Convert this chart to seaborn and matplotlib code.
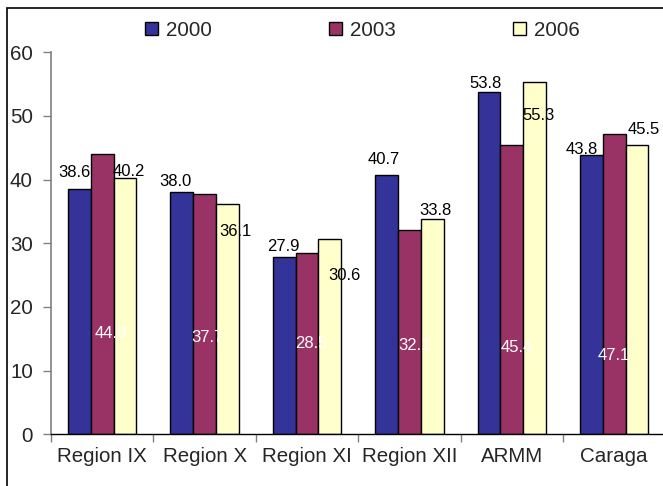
import matplotlib
matplotlib.use('Agg')
import pandas as pd
import seaborn as sns
import matplotlib.pyplot as plt
from matplotlib.patches import Rectangle
from matplotlib.ticker import FixedLocator

# --- Data ---
regions = ['Region IX', 'Region X', 'Region XI', 'Region XII', 'ARMM', 'Caraga']
years = ['2000', '2003', '2006']
vals_2000 = [38.6, 38.0, 27.9, 40.7, 53.8, 43.8]
vals_2003 = [44.0, 37.7, 28.5, 32.1, 45.4, 47.1]
vals_2006 = [40.2, 36.1, 30.6, 33.8, 55.3, 45.5]

# label anchors (excel put them in odd places): y in data units, x shift in px
lab_y = {'2000': [41.1, 39.7, 29.5, 43.2, 55.1, 44.7],
         '2003': [15.9, 15.2, 14.3, 13.9, 13.6, 12.3],
         '2006': [41.2, 31.9, 25.0, 35.2, 50.0, 47.9]}
lab_dx = {'2000': [-5, -6, -1, -3, -4, -10],
          '2003': [9, 3, 4, 5, 4.5, 0],
          '2006': [3.5, 8.5, 15, 3.5, 4, 7]}
lab_color = {'2000': 'black', '2003': 'white', '2006': 'black'}

# --- Styling ---
sns.set_style("white")
plt.rcParams['font.family'] = ['Liberation Sans', 'DejaVu Sans']
palette = ['#333399', '#993366', '#FFFFCC']

df = pd.DataFrame({
    'region': regions * 3,
    'year': [y for y in years for _ in regions],
    'value': vals_2000 + vals_2003 + vals_2006,
})

fig = plt.figure(figsize=(6.63, 4.86), dpi=100)
ax = fig.add_axes([51 / 663, 1 - 434.3 / 486, 614.4 / 663, 382 / 486])

sns.barplot(data=df, x='region', y='value', hue='year', palette=palette,
            width=0.667, saturation=1, edgecolor='black', linewidth=1.0,
            errorbar=None, ax=ax)

ax.set_ylim(0, 60)
ax.set_xlim(-0.5, 5.5)
ax.set_yticks(range(0, 61, 10))
ax.set_xlabel('')
ax.set_ylabel('')
ax.tick_params(axis='y', labelsize=14.8, length=6, width=1, color='#808080',
               direction='out', pad=7, left=True)
ax.tick_params(axis='x', which='major', labelsize=14.8, length=0, pad=9)
ax.xaxis.set_minor_locator(FixedLocator([i - 0.5 for i in range(7)]))
ax.tick_params(axis='x', which='minor', length=6, width=1, color='#808080',
               direction='out', bottom=True)
for s in ['top', 'right']:
    ax.spines[s].set_visible(False)
ax.spines['left'].set_color('#808080')
ax.spines['left'].set_linewidth(1.2)
ax.spines['bottom'].set_color('black')
ax.spines['bottom'].set_linewidth(1.0)
ax.grid(False)

# value labels
px = 102.4  # px per category
for yr, cont in zip(years, ax.containers):
    for i, bar in enumerate(cont):
        cx = bar.get_x() + bar.get_width() / 2 + lab_dx[yr][i] / px
        ax.text(cx, lab_y[yr][i], f'{bar.get_height():.1f}', ha='center',
                va='center', fontsize=12, color=lab_color[yr])

# legend across the top
handles, labels = ax.get_legend_handles_labels()
ax.get_legend().remove()
fig.legend(handles, labels, loc='center left',
           bbox_to_anchor=(145 / 663, 1 - 30 / 486), ncol=3, frameon=False,
           fontsize=14.8, handlelength=0.63, handleheight=0.63,
           handletextpad=0.4, columnspacing=5.7, borderpad=0, borderaxespad=0)

# chart frame (cropped at right and bottom)
fig.patches.append(Rectangle((7 / 663, -0.1), 1.2, 1.1 - 8 / 486,
                             transform=fig.transFigure, fill=False,
                             edgecolor='black', linewidth=1.2))

fig.savefig('out.png', dpi=100)
